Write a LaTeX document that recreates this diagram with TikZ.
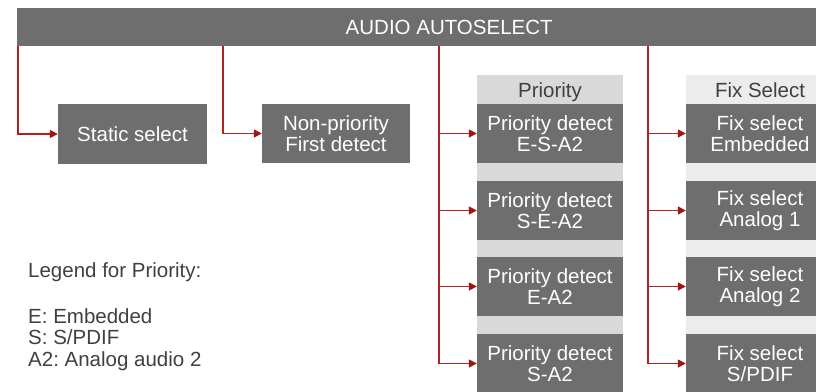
\documentclass[tikz,border=0pt]{standalone}
\usepackage{fontspec}
\setmainfont{Liberation Sans}
\usetikzlibrary{arrows.meta}
\definecolor{boxgray}{RGB}{110,110,110}
\definecolor{prilight}{RGB}{217,217,217}
\definecolor{fixlight}{RGB}{236,236,236}
\definecolor{linered}{RGB}{178,34,34}
\definecolor{tipred}{RGB}{160,20,20}
\definecolor{txtgray}{RGB}{64,64,64}
\frenchspacing
\begin{document}
\begin{tikzpicture}[x=1pt,y=-1pt,
  dark/.style={fill=boxgray, text=white, draw=none, inner sep=0pt, align=center,
    font=\fontsize{20.5}{21.5}\selectfont},
  colbg/.style={draw=none, inner sep=0pt, anchor=north},
  hdr/.style={text=txtgray, inner sep=0pt, anchor=base, font=\fontsize{20.5}{21.5}\selectfont},
  legend/.style={text=txtgray, inner sep=0pt, anchor=base west, font=\fontsize{20.5}{21.5}\selectfont},
  wire/.style={draw=linered, line width=1.6pt},
  conn/.style={wire, -{Triangle[length=8pt,width=8pt,fill=tipred,color=tipred]}}]
\useasboundingbox (0,0) rectangle (816,391);
\clip (0,0) rectangle (816,391);
% top bar
\node[dark, minimum width=864pt, minimum height=38pt, anchor=north west] (top) at (17,8) {AUDIO AUTOSELECT};
% first two boxes
\node[dark, minimum width=149pt, minimum height=60pt] (static) at (132.5,134) {Static select};
\node[dark, minimum width=148pt, minimum height=59pt] (nonpri) at (336,133.5) {Non-priority\\First detect};
% priority column
\node[colbg, fill=prilight, minimum width=146pt, minimum height=320pt] (pricol) at (550,75) {};
\node[hdr] (prihdr) at (550,97) {Priority};
\node[dark, minimum width=146pt, minimum height=59pt] (p1) at (550,133.5) {Priority detect\\E-S-A2};
\node[dark, minimum width=146pt, minimum height=59pt] (p2) at (550,210.5) {Priority detect\\S-E-A2};
\node[dark, minimum width=146pt, minimum height=59pt] (p3) at (550,286.5) {Priority detect\\E-A2};
\node[dark, minimum width=146pt, minimum height=59pt] (p4) at (550,363.5) {Priority detect\\S-A2};
% fix column
\node[colbg, fill=fixlight, minimum width=148pt, minimum height=320pt] (fixcol) at (760,75) {};
\node[hdr] (fixhdr) at (760,97) {Fix Select};
\node[dark, minimum width=148pt, minimum height=59pt] (f1) at (760,133.5) {Fix select\\Embedded};
\node[dark, minimum width=148pt, minimum height=59pt] (f2) at (760,210.5) {Fix select\\Analog 1};
\node[dark, minimum width=148pt, minimum height=59pt] (f3) at (760,286.5) {Fix select\\Analog 2};
\node[dark, minimum width=148pt, minimum height=59pt] (f4) at (760,363.5) {Fix select\\S/PDIF};
% legend
\node[legend] (lg0) at (28,277) {Legend for Priority:};
\node[legend] (lg1) at (28,323) {E: Embedded};
\node[legend] (lg2) at (28,344.5) {S: S/PDIF};
\node[legend] (lg3) at (28,366) {A2: Analog audio 2};
% connectors
\coordinate (s1) at (18,45.5);
\coordinate (s2) at (223,45.5);
\coordinate (s3) at (439,45.5);
\coordinate (s4) at (648,45.5);
\draw[conn] (s1) |- (static.west);
\draw[conn] (s2) |- (nonpri.west);
\draw[conn] (s3) |- (p4.west);
\draw[conn] (s3 |- p1.west) -- (p1.west);
\draw[conn] (s3 |- p2.west) -- (p2.west);
\draw[conn] (s3 |- p3.west) -- (p3.west);
\draw[conn] (s4) |- (f4.west);
\draw[conn] (s4 |- f1.west) -- (f1.west);
\draw[conn] (s4 |- f2.west) -- (f2.west);
\draw[conn] (s4 |- f3.west) -- (f3.west);
\end{tikzpicture}
\end{document}
